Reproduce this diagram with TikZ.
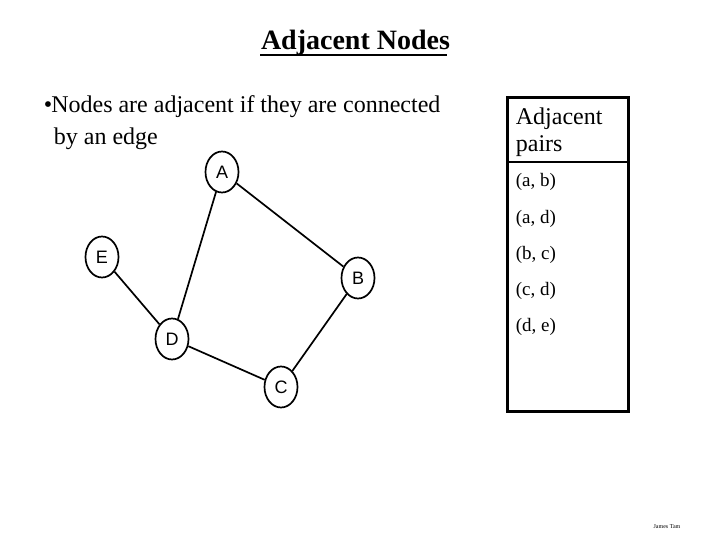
\documentclass[tikz,border=0pt]{standalone}
\usepackage{fontspec}
\setmainfont{Liberation Serif}
\setsansfont{Liberation Sans}
\usetikzlibrary{shapes.geometric}
\begin{document}
\begin{tikzpicture}[
    x=1pt, y=-1pt,
    line width=1.7pt,
    vertex/.style={ellipse, draw, minimum width=33pt, minimum height=41pt, inner sep=0pt, font=\fontsize{18}{18}\selectfont\sffamily},
    txt/.style={inner sep=0pt, anchor=base west, font=\fontsize{24}{24}\selectfont},
    pair/.style={txt, font=\fontsize{19}{19}\selectfont}
]
  \useasboundingbox (0,0) rectangle (720,540);
  % title and bullet
  \node[inner sep=0pt, anchor=base, font=\fontsize{28}{28}\selectfont\bfseries] (title) at (355.5,50) {Adjacent Nodes};
  \draw[line width=2.5pt] (title.base west) ++(0,5) -- ++(187,0);
  \node[txt] (line1) at (43,113) {\textbullet\hspace{-1pt}Nodes are adjacent if they are connected};
  \node[txt] (line2) at (53,145) {by an edge};

  % nodes
  \node[vertex] (A) at (222,172) {A};
  \node[vertex] (E) at (102,257) {E};
  \node[vertex] (B) at (358,278) {B};
  \node[vertex] (D) at (172,339) {D};
  \node[vertex] (C) at (281,387) {C};

  % edges
  \draw (A) -- (D);
  \draw (A) -- (B);
  \draw (E) -- (D);
  \draw (D) -- (C);
  \draw (B) -- (C);

  % pairs box
  \draw[line width=3pt] (507,98) rectangle (628,411);
  \draw[line width=2pt] (507,162) -- (628,162);
  \node[txt] (head1) at (515,125) {Adjacent};
  \node[txt] (head2) at (515,152) {pairs};
  \node[pair] (ab) at (515,187) {(a, b)};
  \node[pair] (ad) at (515,223) {(a, d)};
  \node[pair] (bc) at (515,259) {(b, c)};
  \node[pair] (cd) at (515,295) {(c, d)};
  \node[pair] (de) at (515,331) {(d, e)};

  % footer
  \node[inner sep=0pt, font=\fontsize{6}{6}\selectfont] (author) at (667,527) {James Tam};
\end{tikzpicture}
\end{document}
